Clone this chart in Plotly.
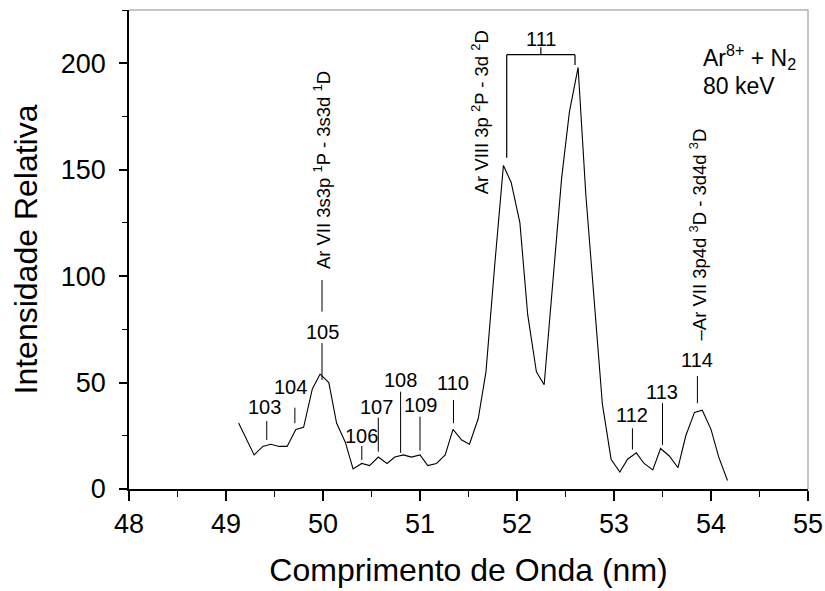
import plotly.graph_objects as go

# Emission spectrum: Ar8+ + N2 collisions at 80 keV
wavelength_nm = [49.13, 49.21, 49.29, 49.38, 49.46, 49.55, 49.63, 49.72, 49.80, 49.89,
                 49.97, 50.06, 50.14, 50.23, 50.31, 50.40, 50.48, 50.57, 50.66, 50.74,
                 50.83, 50.91, 51.00, 51.08, 51.17, 51.26, 51.34, 51.43, 51.51, 51.60,
                 51.68, 51.77, 51.86, 51.94, 52.03, 52.11, 52.20, 52.28, 52.37, 52.46,
                 52.54, 52.63, 52.71, 52.80, 52.88, 52.97, 53.06, 53.14, 53.23, 53.31,
                 53.40, 53.48, 53.57, 53.66, 53.74, 53.83, 53.91, 54.00, 54.08, 54.17]
intensity = [31, 23.5, 16, 20, 21, 20, 20, 28, 29, 47,
             54, 50, 31, 22, 9.4, 12, 11, 15, 12, 15,
             16, 15, 16, 11, 12, 16, 28, 23, 21, 33,
             55, 105, 152, 144, 125, 82, 55, 49, 97, 146,
             177, 198, 138, 85, 40, 14, 8, 14, 17, 12,
             9, 19, 15.5, 10, 25, 36, 37, 28, 15, 4]

x_tick_vals = [48, 49, 50, 51, 52, 53, 54, 55]
y_tick_vals = [0, 50, 100, 150, 200]

# Numbered line labels: (label, line x, line bottom, line top, text x, text y)
line_labels = [
    ("103", 49.42, 23.0, 31.9, 49.40, 38.7),
    ("104", 49.71, 30.9, 38.2, 49.67, 48.1),
    ("105", 49.99, 51.2, 68.6, 49.99, 73.9),
    ("106", 50.40, 13.6, 20.2, 50.40, 24.9),
    ("107", 50.57, 17.5, 33.5, 50.555, 38.7),
    ("108", 50.80, 17.0, 45.7, 50.80, 51.2),
    ("109", 51.00, 18.0, 34.0, 51.00, 39.5),
    ("110", 51.345, 30.9, 41.8, 51.34, 49.6),
    ("112", 53.19, 18.6, 28.5, 53.19, 34.8),
    ("113", 53.50, 20.7, 40.3, 53.49, 45.7),
    ("114", 53.86, 40.3, 53.1, 53.86, 60.6),
]

# Transition identifications, written vertically: (text, x, y)
transitions = [
    ("Ar VII 3s3p <sup>1</sup>P - 3s3d <sup>1</sup>D", 49.99, 149.8),
    ("Ar VIII 3p <sup>2</sup>P - 3d <sup>2</sup>D", 51.62, 177.0),
    ("\u2013Ar VII 3p4d <sup>3</sup>D - 3d4d <sup>3</sup>D", 53.865, 119.5),
]

FONT = "Liberation Sans, Arial, sans-serif"

fig = go.Figure()
fig.add_trace(go.Scatter(
    x=wavelength_nm, y=intensity, mode="lines",
    line=dict(color="black", width=1.1), showlegend=False, hoverinfo="skip",
))

shapes = []
annotations = []
for label, lx, y0, y1, tx, ty in line_labels:
    shapes.append(dict(type="line", xref="x", yref="y", x0=lx, x1=lx, y0=y0, y1=y1,
                       line=dict(color="black", width=1)))
    annotations.append(dict(x=tx, y=ty, xref="x", yref="y", text=label, showarrow=False,
                            font=dict(family=FONT, size=20, color="black"),
                            xanchor="center", yanchor="middle"))

# extra segment between "105" and its identification
shapes.append(dict(type="line", xref="x", yref="y", x0=49.99, x1=49.99, y0=83.3, y1=98.2,
                   line=dict(color="black", width=1)))

# bracket for the 111 doublet
br_left, br_right, br_top = 51.894, 52.598, 204.0
br_mid = (br_left + br_right) / 2
shapes += [
    dict(type="line", xref="x", yref="y", x0=br_left, x1=br_left, y0=155.6, y1=br_top,
         line=dict(color="black", width=1.2)),
    dict(type="line", xref="x", yref="y", x0=br_left, x1=br_right, y0=br_top, y1=br_top,
         line=dict(color="black", width=1.2)),
    dict(type="line", xref="x", yref="y", x0=br_right, x1=br_right, y0=199.2, y1=br_top,
         line=dict(color="black", width=1.2)),
    dict(type="line", xref="x", yref="y", x0=br_mid, x1=br_mid, y0=br_top, y1=207.5,
         line=dict(color="black", width=1.2)),
]
annotations.append(dict(x=br_mid, y=211.5, xref="x", yref="y", text="111", showarrow=False,
                        font=dict(family=FONT, size=20, color="black"),
                        xanchor="center", yanchor="middle"))

for text, tx, ty in transitions:
    annotations.append(dict(x=tx, y=ty, xref="x", yref="y", text=text, showarrow=False,
                            textangle=-90, font=dict(family=FONT, size=18.5, color="black"),
                            xanchor="center", yanchor="middle"))

annotations += [
    dict(x=53.90, y=203.0, xref="x", yref="y", text="Ar<sup>8+</sup> + N<sub>2</sub>",
         showarrow=False, font=dict(family=FONT, size=23, color="black"),
         xanchor="left", yanchor="middle"),
    dict(x=53.90, y=189.3, xref="x", yref="y", text="80 keV",
         showarrow=False, font=dict(family=FONT, size=23, color="black"),
         xanchor="left", yanchor="middle"),
]

# thin grey frame on the top and right sides
shapes += [
    dict(type="line", xref="paper", yref="paper", x0=0, x1=1, y0=1, y1=1,
         line=dict(color="#8a8a8a", width=1)),
    dict(type="line", xref="paper", yref="paper", x0=1, x1=1, y0=0, y1=1,
         line=dict(color="#8a8a8a", width=1)),
]

fig.update_layout(
    width=825, height=591,
    margin=dict(l=129, r=17, t=10, b=102, autoexpand=False),
    paper_bgcolor="white", plot_bgcolor="white",
    font=dict(family=FONT, color="black"),
    shapes=shapes, annotations=annotations,
    xaxis=dict(
        range=[48, 55], tickvals=x_tick_vals, ticktext=[str(v) for v in x_tick_vals],
        automargin=False,
        showgrid=False, zeroline=False, showline=True, linecolor="black", linewidth=1.5,
        ticks="outside", ticklen=10, tickwidth=1.5, tickcolor="black",
        minor=dict(dtick=0.5, ticks="outside", ticklen=6, tickwidth=1.2, tickcolor="black"),
        tickfont=dict(family=FONT, size=27),
        title=dict(text="Comprimento de Onda (nm)", font=dict(family=FONT, size=32), standoff=20),
    ),
    yaxis=dict(
        range=[0, 225], tickvals=y_tick_vals, ticktext=[str(v) for v in y_tick_vals],
        automargin=False,
        showgrid=False, zeroline=False, showline=True, linecolor="black", linewidth=1.5,
        ticks="outside", ticklen=8, tickwidth=1.5, tickcolor="black",
        minor=dict(dtick=25, ticks="outside", ticklen=5, tickwidth=1.2, tickcolor="black"),
        tickfont=dict(family=FONT, size=27), ticklabelstandoff=8,
        title=dict(text="Intensidade Relativa", font=dict(family=FONT, size=32), standoff=14),
    ),
)

fig.write_html("out.html")
